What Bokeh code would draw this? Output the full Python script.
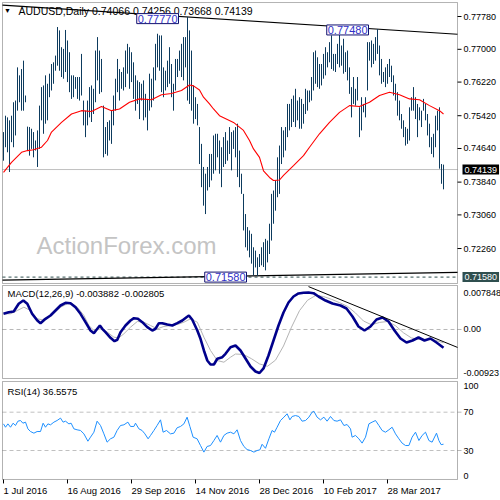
from bokeh.plotting import figure
from bokeh.layouts import column
from bokeh.models import BoxAnnotation, Label, Range1d
from bokeh.core.properties import value
from bokeh.embed import file_html
from bokeh.resources import INLINE

# ---------------- data ----------------
bar_high = [0.7503,0.7542,0.7538,0.7531,0.7542,0.7574,0.7578,0.7657,0.7638,0.7653,
            0.7673,0.7590,0.7516,0.7515,0.7511,0.7503,0.7483,0.7507,0.7566,0.7610,
            0.7614,0.7638,0.7618,0.7642,0.7665,0.7669,0.7685,0.7753,0.7745,0.7705,
            0.7701,0.7746,0.7721,0.7693,0.7638,0.7638,0.7634,0.7634,0.7634,0.7689,
            0.7578,0.7554,0.7578,0.7610,0.7614,0.7606,0.7697,0.7729,0.7697,0.7677,
            0.7566,0.7515,0.7527,0.7531,0.7554,0.7590,0.7630,0.7677,0.7653,0.7646,
            0.7657,0.7697,0.7713,0.7705,0.7693,0.7669,0.7638,0.7626,0.7622,0.7618,
            0.7626,0.7594,0.7582,0.7642,0.7630,0.7657,0.7713,0.7737,0.7733,0.7733,
            0.7657,0.7649,0.7673,0.7705,0.7665,0.7618,0.7677,0.7677,0.7697,0.7713,
            0.7729,0.7729,0.7777,0.7745,0.7697,0.7614,0.7586,0.7570,0.7515,0.7475,
            0.7420,0.7404,0.7420,0.7451,0.7451,0.7495,0.7499,0.7499,0.7483,0.7467,
            0.7491,0.7503,0.7483,0.7515,0.7503,0.7507,0.7515,0.7523,0.7459,0.7404,
            0.7356,0.7308,0.7277,0.7269,0.7261,0.7229,0.7221,0.7205,0.7213,0.7229,
            0.7241,0.7249,0.7245,0.7285,0.7356,0.7364,0.7388,0.7443,0.7471,0.7515,
            0.7507,0.7515,0.7570,0.7570,0.7582,0.7590,0.7606,0.7578,0.7586,0.7582,
            0.7570,0.7606,0.7602,0.7602,0.7634,0.7693,0.7697,0.7681,0.7665,0.7665,
            0.7689,0.7705,0.7693,0.7717,0.7733,0.7689,0.7689,0.7713,0.7737,0.7709,
            0.7725,0.7693,0.7697,0.7657,0.7610,0.7634,0.7606,0.7634,0.7562,0.7586,
            0.7570,0.7586,0.7717,0.7717,0.7721,0.7713,0.7729,0.7748,0.7709,0.7677,
            0.7646,0.7657,0.7665,0.7677,0.7661,0.7638,0.7618,0.7598,0.7578,0.7546,
            0.7531,0.7515,0.7511,0.7562,0.7586,0.7610,0.7586,0.7570,0.7562,0.7554,
            0.7582,0.7570,0.7546,0.7523,0.7491,0.7499,0.7542,0.7554,0.7562,0.7427,
            0.74256]
bar_low = [0.7435,0.7467,0.7455,0.7408,0.7479,0.7467,0.7495,0.7554,0.7574,0.7554,
           0.7554,0.7574,0.7459,0.7447,0.7463,0.7443,0.7459,0.7420,0.7463,0.7531,
           0.7499,0.7523,0.7531,0.7586,0.7602,0.7618,0.7649,0.7661,0.7649,0.7634,
           0.7630,0.7646,0.7622,0.7598,0.7582,0.7586,0.7606,0.7582,0.7578,0.7590,
           0.7519,0.7491,0.7519,0.7538,0.7527,0.7546,0.7574,0.7626,0.7594,0.7598,
           0.7443,0.7451,0.7447,0.7483,0.7475,0.7519,0.7554,0.7598,0.7578,0.7606,
           0.7602,0.7610,0.7642,0.7606,0.7622,0.7582,0.7554,0.7570,0.7534,0.7578,
           0.7531,0.7538,0.7507,0.7554,0.7562,0.7578,0.7626,0.7657,0.7649,0.7598,
           0.7586,0.7602,0.7610,0.7618,0.7586,0.7554,0.7602,0.7634,0.7649,0.7634,
           0.7626,0.7657,0.7578,0.7570,0.7554,0.7523,0.7534,0.7519,0.7427,0.7372,
           0.7328,0.7308,0.7364,0.7372,0.7388,0.7404,0.7412,0.7443,0.7404,0.7372,
           0.7420,0.7427,0.7435,0.7451,0.7412,0.7463,0.7443,0.7396,0.7372,0.7356,
           0.7269,0.7229,0.7221,0.7205,0.7190,0.7162,0.7181,0.7161,0.7182,0.7186,
           0.7182,0.7174,0.7193,0.7213,0.7245,0.7285,0.7316,0.7348,0.7356,0.7427,
           0.7443,0.7459,0.7491,0.7507,0.7515,0.7527,0.7515,0.7531,0.7511,0.7511,
           0.7523,0.7546,0.7554,0.7574,0.7578,0.7602,0.7618,0.7610,0.7606,0.7614,
           0.7630,0.7638,0.7657,0.7669,0.7653,0.7649,0.7646,0.7665,0.7657,0.7661,
           0.7642,0.7646,0.7626,0.7594,0.7538,0.7570,0.7566,0.7578,0.7491,0.7507,
           0.7550,0.7538,0.7602,0.7673,0.7657,0.7665,0.7673,0.7689,0.7638,0.7618,
           0.7622,0.7610,0.7618,0.7634,0.7622,0.7590,0.7578,0.7542,0.7531,0.7511,
           0.7491,0.7471,0.7475,0.7483,0.7554,0.7554,0.7534,0.7491,0.7531,0.7515,
           0.7554,0.7531,0.7495,0.7467,0.7451,0.7443,0.7467,0.7507,0.7416,0.7380,
           0.73668]
bar_idx = list(range(len(bar_high)))

ma_idx = [0,4,9,12,15,19,22,24,29,34,39,44,49,54,58,63,68,74,79,84,89,93,95,98,100,
          103,105,108,115,120,123,125,128,130,133,135,138,140,145,150,153,158,163,168,
          173,178,183,188,193,198,203,208,213,218,220]
ma_val = [0.7407,0.7431,0.7455,0.7459,0.7461,0.7467,0.7483,0.7503,0.7526,0.7546,0.7554,
          0.7552,0.7564,0.7554,0.7558,0.7574,0.7582,0.7580,0.7592,0.7595,0.7602,0.7615,
          0.7613,0.7603,0.7586,0.7570,0.7558,0.7542,0.7526,0.7507,0.7483,0.7463,0.7443,
          0.7411,0.7395,0.7388,0.7389,0.7400,0.7423,0.7447,0.7467,0.7499,0.7526,0.7550,
          0.7566,0.7564,0.7574,0.7590,0.7598,0.7592,0.7582,0.7580,0.7566,0.7554,0.7546]

macd_idx = [0,2.6,5.1,7.6,9.9,11.9,14.3,16.9,18.5,21,23.5,26,28.5,31,33.5,36,38.5,41,
            43.5,45.2,46.9,48.2,49.4,51,53.5,55.5,56.9,58.5,61,63.5,65.2,67.2,69.4,71.9,
            74.4,76,77.7,79.4,81.9,84.4,86.9,89.4,91.5,92.7,94.4,96.9,98.5,100.2,101.9,
            103.5,105.2,106.9,109.4,111,113.5,116,118.5,121,123.5,126,128,130,132.5,135,
            137.5,140,142.5,145,147.5,150,152.5,155,157.5,161,164.5,168.5,171.5,174.5,
            177.5,180.5,183.5,186.5,189.5,192.5,195.5,198.5,201.5,204.5,207.5,210.5,
            213.5,216.5,220]
macd_val = [0.00333,0.00367,0.00382,0.00545,0.00615,0.00545,0.00333,0.00191,0.00134,
            0.00227,0.00297,0.00403,0.00509,0.00566,0.00558,0.00473,0.00333,0.00155,
            -0.00021,-0.00078,0.00015,0.00085,0.00015,-0.00057,-0.00176,-0.00248,
            -0.00218,-0.00057,0.00085,0.00191,0.00240,0.00227,0.00155,0.00049,-0.00021,
            0.00015,0.00134,0.00134,0.00106,0.00085,0.00134,0.00191,0.00261,0.00297,
            0.00206,-0.00021,-0.00197,-0.00445,-0.00658,-0.00742,-0.00742,-0.00621,
            -0.00588,-0.00515,-0.00375,-0.00339,-0.00445,-0.00615,-0.00785,-0.00891,
            -0.00923,-0.00827,-0.00552,-0.00233,0.00085,0.00361,0.00573,0.00700,0.00764,
            0.00780,0.00785,0.00770,0.00700,0.00615,0.00551,0.00509,0.00445,0.00276,
            0.00064,-0.00021,0.00064,0.00212,0.00255,0.00170,-0.00021,-0.00191,-0.00276,
            -0.00233,-0.00170,-0.00233,-0.00191,-0.00276,-0.00388]
sig_idx = [0,3.5,6.9,10.2,13.5,16.9,19.4,21.9,25.2,28.5,31.9,34.4,36.9,40.2,42.7,45.2,
           48.5,51.9,55.2,57.7,60.2,63.5,66.9,70.2,73.5,76.9,80.2,83.5,86.9,90.2,93.5,
           96.9,100.2,103.5,106.9,110.2,113.5,116,120,124,128,132,136,140,144,148,152,
           156,160,164,168,172,176,180,184,188,192,196,200,204,208,212,216,220]
sig_val = [0.00333,0.00333,0.00403,0.00473,0.00403,0.00227,0.00206,0.00261,0.00346,
           0.00473,0.00545,0.00545,0.00473,0.00297,0.00085,-0.00021,0.00015,-0.00057,
           -0.00163,-0.00176,-0.00091,0.00049,0.00170,0.00155,0.00085,0.00015,0.00064,
           0.00085,0.00106,0.00155,0.00227,0.00155,-0.00163,-0.00445,-0.00658,-0.00694,
           -0.00588,-0.00520,-0.00530,-0.00620,-0.00730,-0.00780,-0.00650,-0.00350,
           0.00050,0.00400,0.00620,0.00720,0.00700,0.00640,0.00570,0.00490,0.00350,
           0.00180,0.00100,0.00150,0.00170,0.00080,-0.00070,-0.00180,-0.00210,-0.00210,
           -0.00230,-0.00281]

rsi_idx = [0,1,2.2,3.5,4.8,6,7.2,8.5,9.7,11,12.2,13.5,15.2,16.8,18.5,19.8,21,22.2,23.5,
           25.2,26.8,28.5,29.8,31,32.7,33.8,35.2,36.8,38.5,40.2,42.2,43.5,45.2,46.8,48.5,
           50.2,51.8,53.5,55.2,56.8,58.5,60.2,62.2,63.5,65.2,66,67.7,69.3,70.7,72.3,73.5,
           75.2,76.8,78.5,79.8,81.5,83.5,85.2,86.8,88.5,90.2,91.8,93.2,94.8,96.8,98.5,
           100.2,101.8,103.5,105.2,106.8,108.5,110.2,111.8,113.5,115.2,116.8,118.5,120.2,
           121.8,123.5,125.2,126.8,128.2,129.3,131,132.7,134.3,135.5,136.8,138.5,140.2,
           141.8,143.2,144.3,146,147.7,149.3,151,152.7,154.3,155.2,156.8,158.5,160.2,
           161.8,163.5,165.2,166.8,168.5,170.2,171.8,173.5,174.3,176,177.7,179.3,181,
           182.7,184.3,186,187.7,189.3,191,192.7,194.3,196,197.7,199.3,201,202.7,204.3,
           206,207.7,209.3,211,212.7,214.3,216.5,217.7,218.8,220]
rsi_val = [57.8,54.3,57.8,54.3,58.5,56.1,60.6,61.3,58.5,59.6,52.6,49.8,48.1,49.8,49.8,
           58.5,54.3,57.8,56.8,59.6,61.3,63.8,59.6,60.6,57.8,58.5,52.6,51.6,50.9,47.4,
           39.7,43.9,49.1,60.6,56.1,47.4,38.7,42.2,43.9,50.9,56.1,56.8,59.6,55.1,55.1,
           58.5,52.6,50.9,47.4,42.2,45.7,50.9,56.1,62.0,49.1,50.9,47.4,48.1,53.7,55.1,
           57.8,64.8,55.1,43.9,42.2,35.2,28.3,34.2,35.2,40.4,45.7,38.7,45.7,48.1,49.1,
           47.4,51.6,40.4,34.2,31.0,30.0,28.3,30.0,30.7,36.5,32.3,42.2,50.9,49.1,54.3,
           61.3,64.8,68.3,62.0,65.5,66.5,65.5,60.6,61.3,64.8,70.0,71.0,64.8,62.0,64.8,
           60.6,65.5,61.3,60.6,62.0,56.1,57.1,52.6,43.9,45.7,42.2,37.7,43.9,57.8,59.6,
           61.3,56.1,50.9,49.1,51.6,54.3,47.4,42.2,37.7,35.2,35.2,43.9,49.1,40.4,45.7,
           49.1,40.4,38.7,48.1,40.4,36.1,36.56]

tick_idx = [0, 32, 64, 96, 128, 160, 192]
tick_labels = ["1 Jul 2016", "16 Aug 2016", "29 Sep 2016", "14 Nov 2016",
               "28 Dec 2016", "10 Feb 2017", "28 Mar 2017"]
price_ticks = [0.7778, 0.7700, 0.7622, 0.7542, 0.7464, 0.7384, 0.7306, 0.7226]
macd_ticks = [0.007848, 0.0, -0.00923]
macd_tick_labels = ["0.007848", "0.00", "-0.00923"]
rsi_levels = [70, 30]

last_close = 0.74139
support_level = 0.7158
res_idx = [92, 187]
res_px = [0.7777, 0.7748]
sup_idx = [126, 226]
sup_px = [0.7161, 0.7169]
macd_tl_idx = [152.5, 227]
macd_tl_val = [0.0091, -0.0038]

# ---------------- layout / styling ----------------
FONT = "Liberation Sans"
BAR = "#0D3B5E"
X0, X1 = -1.5, 248.5          # full canvas width in bar units (2 px per bar)
PL, PR = -0.5, 227            # plot box left / right (axis line)
LX = 230                      # axis label column

xr = Range1d(X0, X1)


def panel(h, yr):
    p = figure(width=500, height=h, x_range=xr, y_range=yr,
               output_backend="svg", toolbar_location=None, tools="",
               x_axis_location=None, y_axis_location=None,
               min_border_left=0, min_border_right=0,
               min_border_top=0, min_border_bottom=0)
    p.outline_line_color = None
    p.background_fill_color = "white"
    p.border_fill_color = "white"
    p.xgrid.visible = False
    p.ygrid.visible = False
    return p


def axis_text(p, ys, labels, baseline="middle", color="black"):
    p.text(x=[LX] * len(ys), y=ys, text=labels, text_font=value(FONT),
           text_font_size="9px", text_color=color, text_align="left",
           text_baseline=baseline)


def hline(p, y, **kw):
    p.segment(x0=PL, x1=PR, y0=y, y1=y, **kw)


# ---- price panel (canvas rows 0..284) ----
p1 = panel(284, Range1d(0.71404, 0.78161))
p1.add_layout(BoxAnnotation(left=PL, right=PR, bottom=0.71428, top=0.78113,
                            fill_color=None, line_color="black", line_width=1))
p1.add_layout(Label(x=61.5, y=0.72331, text="ActionForex.com", text_font=FONT,
                    text_font_size="24px", text_color="#C4C4C4", text_align="center",
                    text_baseline="middle", level="underlay"))
hline(p1, last_close, line_color="#C0C0C0", line_width=1)
hline(p1, support_level, line_color="#2F4F4F", line_width=1, line_dash="3 3")

g_up = (res_px[1] - res_px[0]) / (res_idx[1] - res_idx[0])
p1.line([PL, PR], [res_px[0] + g_up * (PL - res_idx[0]), res_px[0] + g_up * (PR - res_idx[0])],
        line_color="black", line_width=1.2)
g_dn = (sup_px[1] - sup_px[0]) / (sup_idx[1] - sup_idx[0])
p1.line([PL, PR], [sup_px[0] + g_dn * (PL - sup_idx[0]), sup_px[0] + g_dn * (PR - sup_idx[0])],
        line_color="black", line_width=1.2)

p1.segment(x0=bar_idx, y0=bar_low, x1=bar_idx, y1=bar_high, line_color=BAR, line_width=1)
p1.line(ma_idx, ma_val, line_color="#FF0000", line_width=1.1)

p1.segment(x0=PR, x1=PR + 2, y0=price_ticks, y1=price_ticks, line_color="black")
axis_text(p1, price_ticks, ["%.5f" % t for t in price_ticks])

p1.add_layout(Label(x=2, y=0.77923, text="\u25BC", text_font=FONT, text_font_size="7px",
                    text_color="black", text_align="center", text_baseline="middle"))
p1.add_layout(Label(x=7.5, y=0.77923,
                    text="AUDUSD,Daily  0.74066 0.74256 0.73668 0.74139",
                    text_font=FONT, text_font_size="10.5px", text_color="#000000",
                    text_align="left", text_baseline="middle"))
for lx, ly, lt in [(87.5, 0.7773, "0.77770"), (182.5, 0.7746, "0.77480"),
                   (121.5, 0.7158, "0.71580")]:
    p1.add_layout(Label(x=lx, y=ly, text=lt, text_font=FONT, text_font_size="11px",
                        text_color="#3030C8", text_align="right", text_baseline="middle",
                        background_fill_color="white", border_line_color="#101070",
                        border_line_width=1, padding=1))
p1.add_layout(Label(x=LX - 0.5, y=last_close, text="0.74139", text_font=FONT,
                    text_font_size="9px", text_color="white", text_align="left",
                    text_baseline="middle", background_fill_color="black", padding=2))
p1.add_layout(Label(x=LX - 0.5, y=support_level, text="0.71580", text_font=FONT,
                    text_font_size="9px", text_color="white", text_align="left",
                    text_baseline="middle", background_fill_color="#2F4F4F", padding=2))

# ---- MACD panel (canvas rows 284..379) ----
p2 = panel(95, Range1d(-0.010607, 0.009546))
p2.add_layout(BoxAnnotation(left=PL, right=PR, bottom=-0.010395, top=0.009334,
                            fill_color=None, line_color="black", line_width=1))
hline(p2, 0.0, line_color="#B8B8B8", line_width=1, line_dash="4 3")
p2.segment(x0=PR, x1=PR + 2, y0=0.0, y1=0.0, line_color="#B8B8B8")
p2.line(sig_idx, sig_val, line_color="#B4B4B4", line_width=1)
p2.line(macd_idx, macd_val, line_color="#00008B", line_width=2.6)
p2.line(macd_tl_idx, macd_tl_val, line_color="black", line_width=1)
axis_text(p2, macd_ticks, macd_tick_labels)
p2.add_layout(Label(x=2, y=0.00764, text="MACD(12,26,9) -0.003882 -0.002805", text_font=FONT,
                    text_font_size="9.5px", text_color="black", text_align="left",
                    text_baseline="middle"))

# ---- RSI panel (canvas rows 379..500) ----
p3 = panel(121, Range1d(-22.19, 104.11))
p3.add_layout(BoxAnnotation(left=PL, right=PR, bottom=-0.27, top=102.03,
                            fill_color=None, line_color="black", line_width=1))
for lv in rsi_levels:
    hline(p3, lv, line_color="#C0C0C0", line_width=1, line_dash="4 3")
p3.segment(x0=PR, x1=PR + 2, y0=rsi_levels, y1=rsi_levels, line_color="#B8B8B8")
p3.line(rsi_idx, rsi_val, line_color="#1E90FF", line_width=1)
axis_text(p3, rsi_levels, [str(v) for v in rsi_levels])
axis_text(p3, [100], ["100"], baseline="top")
axis_text(p3, [0], ["0"], baseline="bottom")
p3.add_layout(Label(x=2, y=91.6, text="RSI(14) 36.5575", text_font=FONT,
                    text_font_size="9.5px", text_color="black", text_align="left",
                    text_baseline="middle"))
# date axis
p3.segment(x0=tick_idx, x1=tick_idx, y0=-0.27, y1=-4.4, line_color="black")
p3.text(x=tick_idx, y=[-6.3] * len(tick_idx), text=tick_labels, text_font=value(FONT),
        text_font_size="9.5px", text_color="black", text_align="left", text_baseline="top")

layout = column(p1, p2, p3, spacing=0)
open("out.html", "w").write(file_html(layout, INLINE))
